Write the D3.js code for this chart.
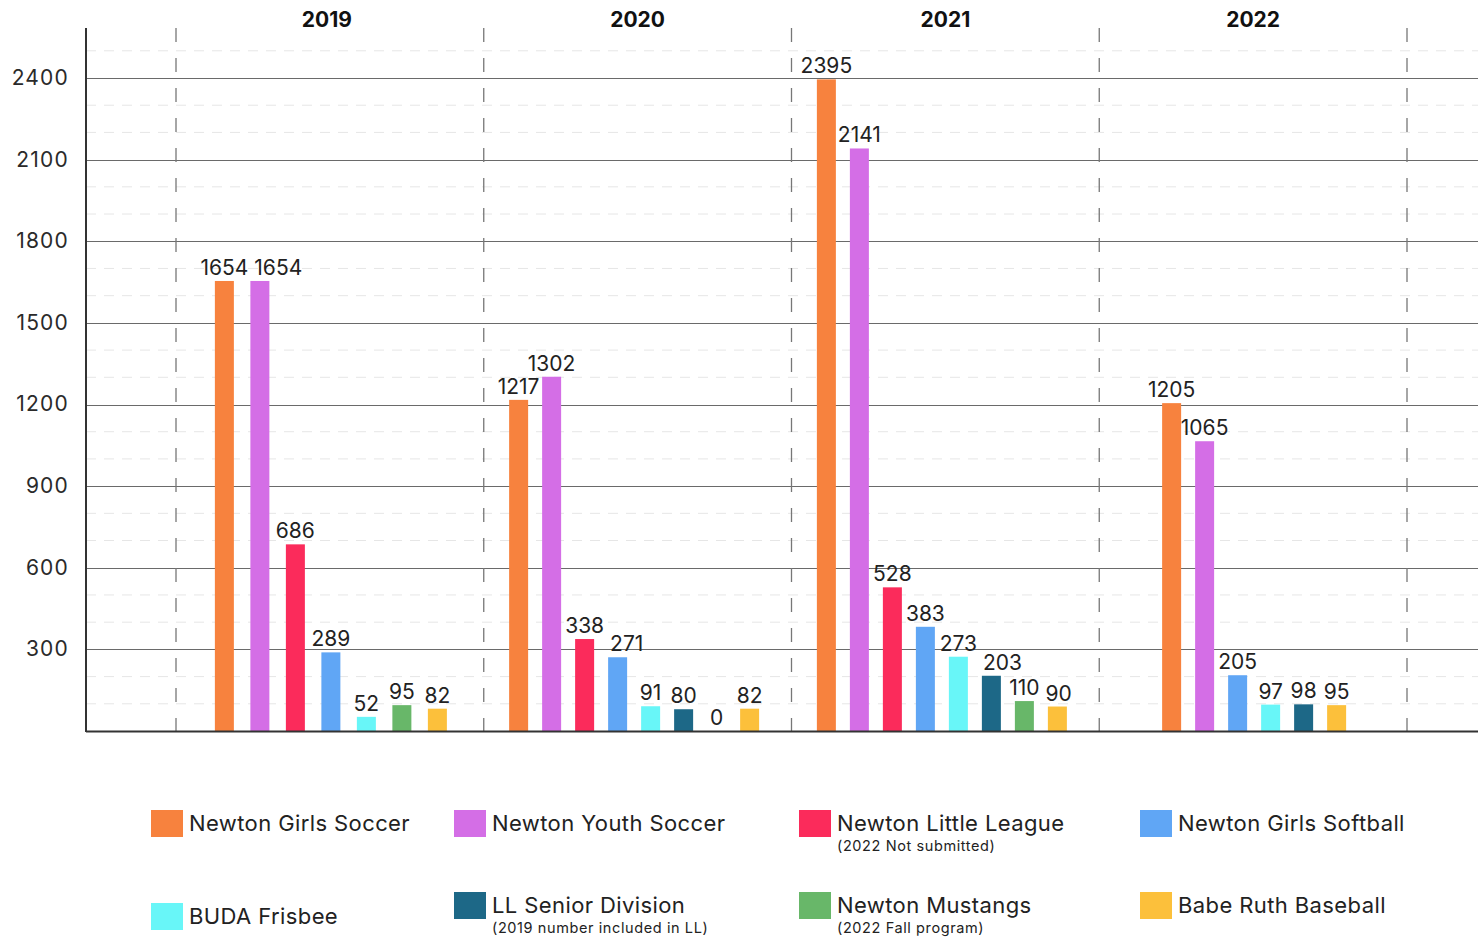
<!DOCTYPE html>
<html><head><meta charset="utf-8">
<script src="https://cdn.jsdelivr.net/npm/d3@7"></script>
<style>body{margin:0;background:#fff;} svg{display:block;font-family:Inter,'Noto Sans',sans-serif;}</style>
</head><body><svg id="c" width="1478" height="937"></svg>
<script>
// ---- data ----
const years = ["2019", "2020", "2021", "2022"];
const seriesNames = ["Newton Girls Soccer", "Newton Youth Soccer", "Newton Little League", "Newton Girls Softball",
  "BUDA Frisbee", "LL Senior Division", "Newton Mustangs", "Babe Ruth Baseball"];
const seriesNotes = ["", "", "(2022 Not submitted)", "", "", "(2019 number included in LL)", "(2022 Fall program)", ""];
const girlsSoccer   = [1654, 1217, 2395, 1205];
const youthSoccer   = [1654, 1302, 2141, 1065];
const littleLeague  = [686, 338, 528, null];
const girlsSoftball = [289, 271, 383, 205];
const budaFrisbee   = [52, 91, 273, 97];
const llSenior      = [null, 80, 203, 98];
const mustangs      = [95, 0, 110, null];
const babeRuth      = [82, 82, 90, 95];
const yTicks = [300, 600, 900, 1200, 1500, 1800, 2100, 2400];

const seriesValues = [girlsSoccer, youthSoccer, littleLeague, girlsSoftball, budaFrisbee, llSenior, mustangs, babeRuth];
const colors = ["#F7823E", "#D46EE6", "#FB2B5B", "#60A6F5", "#68F6F8", "#1D6887", "#68B769", "#FCC03B"];

// ---- layout ----
const svg = d3.select("#c");
const axisX = 86, plotRight = 1478, base = 731, plotTop = 28;
const y = d3.scaleLinear().domain([0, 2400]).range([base, 78]);
const x = d3.scaleBand().domain(years).range([176, 1407]).paddingInner(0).paddingOuter(0);
const groupNudge = [1, -3.5, -3.5, 1];

// minor dashed grid
const minor = d3.range(100, y.invert(plotTop), 100).filter(v => v % 300 !== 0);
svg.append("g").selectAll("line").data(minor).join("line")
  .attr("x1", axisX).attr("x2", plotRight).attr("y1", d => y(d)).attr("y2", d => y(d))
  .attr("stroke", "#e6e6e6").attr("stroke-width", 1).attr("stroke-dasharray", "10,8");

// major grid
svg.append("g").selectAll("line").data(yTicks).join("line")
  .attr("x1", axisX).attr("x2", plotRight).attr("y1", d => Math.round(y(d)) + 0.5).attr("y2", d => Math.round(y(d)) + 0.5)
  .attr("stroke", "#6a6a6a").attr("stroke-width", 1.2);

// vertical dashed separators
const seps = years.map(d => x(d)).concat([x.range()[1]]);
svg.append("g").selectAll("line").data(seps).join("line")
  .attr("x1", d => d).attr("x2", d => d).attr("y1", plotTop).attr("y2", base)
  .attr("stroke", "#777").attr("stroke-width", 1.3).attr("stroke-dasharray", "14,16");

// y tick labels
svg.append("g").selectAll("text").data(yTicks).join("text")
  .attr("x", 69).attr("y", d => y(d)).attr("dy", "0.33em").attr("text-anchor", "end")
  .attr("font-size", 21).attr("letter-spacing", 1.2).attr("fill", "#2a2a2a").text(d => d);

// year labels
svg.append("g").selectAll("text").data(years).join("text")
  .attr("x", (d, i) => x(d) + x.bandwidth() / 2 + (i === 0 ? -3 : 0)).attr("y", 27).attr("text-anchor", "middle")
  .attr("font-size", 21).attr("font-weight", 700).attr("fill", "#111").text(d => d);

// bars
const barW = 19;
years.forEach((yr, i) => {
  const present = seriesNames.map((s, j) => ({ s, j, v: seriesValues[j][i] })).filter(d => d.v !== null);
  const step = present.length === 7 ? 35.5 : 33;
  const w = step * present.length;
  const cx = x(yr) + x.bandwidth() / 2 + groupNudge[i];
  const inner = d3.scaleBand().domain(present.map(d => d.s)).range([cx - w / 2, cx + w / 2]);
  const g = svg.append("g");
  g.selectAll("rect").data(present).join("rect")
    .attr("x", d => inner(d.s) + (inner.bandwidth() - barW) / 2)
    .attr("width", barW)
    .attr("y", d => y(d.v)).attr("height", d => base - y(d.v))
    .attr("fill", d => colors[d.j]);
  const labels = g.selectAll("text").data(present).join("text")
    .attr("x", d => inner(d.s) + inner.bandwidth() / 2)
    .attr("y", d => y(d.v) - 6).attr("text-anchor", "middle")
    .attr("font-size", 21).attr("fill", "#222").text(d => d.v);
  // simple collision avoidance: push a label right if it overlaps the previous one
  let prev = null;
  labels.each(function () {
    const b = this.getBBox();
    if (prev && b.x < prev.x + prev.width + 6 && Math.abs(b.y - prev.y) < b.height * 0.8) {
      const dx = prev.x + prev.width + 6 - b.x;
      d3.select(this).attr("x", +d3.select(this).attr("x") + dx);
      prev = this.getBBox();
    } else prev = b;
  });
});

// axes lines
svg.append("line").attr("x1", axisX).attr("x2", axisX).attr("y1", plotTop).attr("y2", base + 1)
  .attr("stroke", "#333").attr("stroke-width", 2);
svg.append("line").attr("x1", axisX).attr("x2", plotRight).attr("y1", base + 0.5).attr("y2", base + 0.5)
  .attr("stroke", "#333").attr("stroke-width", 2);

// legend
const legX = [151, 454, 799, 1140];
const legRowTop = [810, 892];
const leg = svg.append("g");
seriesNames.forEach((s, j) => {
  const col = j % 4, row = Math.floor(j / 4);
  const shift = (row === 1 && col === 0) ? 11 : 0;
  const ty = legRowTop[row] + shift;
  leg.append("rect").attr("x", legX[col]).attr("y", ty).attr("width", 32).attr("height", 27).attr("fill", colors[j]);
  leg.append("text").attr("x", legX[col] + 38).attr("y", ty + 21).attr("font-size", 22).attr("letter-spacing", 0.4)
    .attr("fill", "#222").text(s);
  if (seriesNotes[j]) {
    leg.append("text").attr("x", legX[col] + 38).attr("y", ty + 41).attr("font-size", 14.5).attr("letter-spacing", 0.6)
      .attr("fill", "#222").text(seriesNotes[j]);
  }
});
</script></body></html>
